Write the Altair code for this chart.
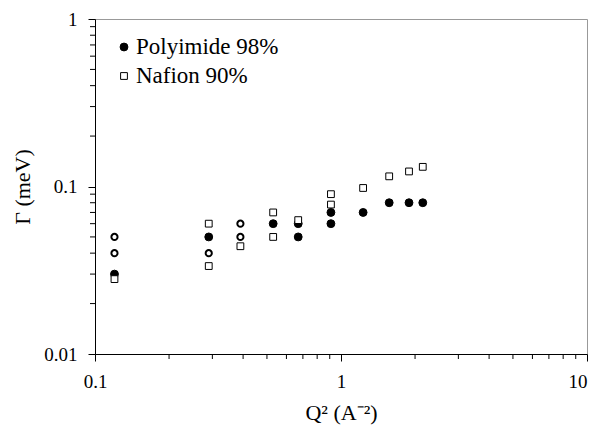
import altair as alt
import pandas as pd

# Polyimide 98% (filled circles)
poly_x = [0.12, 0.29, 0.53, 0.67, 0.67, 0.91, 0.91, 1.23, 1.57, 1.89, 2.15]
poly_y = [0.030, 0.050, 0.060, 0.060, 0.050, 0.070, 0.060, 0.070, 0.080, 0.080, 0.080]
# Nafion 90% (open squares)
naf_x = [0.12, 0.29, 0.29, 0.39, 0.53, 0.53, 0.67, 0.91, 0.91, 1.23, 1.57, 1.89, 2.15]
naf_y = [0.028, 0.060, 0.0335, 0.044, 0.070, 0.050, 0.063, 0.090, 0.078, 0.098, 0.115, 0.123, 0.131]
# extra open circles (not in legend)
open_x = [0.12, 0.12, 0.29, 0.39, 0.39]
open_y = [0.050, 0.040, 0.040, 0.060, 0.050]

series = ["Polyimide 98%", "Nafion 90%"]
x_major = [0.1, 1, 10]
y_major = [0.01, 0.1, 1]
x_minor = [m * d for d in [0.1, 1] for m in range(2, 10)]
y_minor = [m * d for d in [0.01, 0.1] for m in range(2, 10)]

W, H = 492, 335
FONT = "Liberation Serif, Times New Roman, serif"

df_poly = pd.DataFrame({"x": poly_x, "y": poly_y})
df_naf = pd.DataFrame({"x": naf_x, "y": naf_y})
df_open = pd.DataFrame({"x": open_x, "y": open_y})
df_xminor = pd.DataFrame({"x": x_minor})
df_yminor = pd.DataFrame({"y": y_minor})

xs = alt.Scale(type="log", domain=[0.1, 10], nice=False)
ys = alt.Scale(type="log", domain=[0.01, 1], nice=False)

xaxis = alt.Axis(values=x_major, format="~g", title="Q² (A⁻²)", grid=False,
                 tickSize=7, tickColor="black", domainColor="black",
                 labelPadding=11, labelFlush=False,
                 labelAlign={"expr": "datum.value >= 10 ? 'right' : 'center'"},
                 titleY=58, titleBaseline="middle")
yaxis = alt.Axis(values=y_major, format="~g", title="Γ (meV)", grid=False,
                 tickSize=7, tickColor="black", domainColor="black",
                 labelPadding=11, labelFlush=False, titleX=-73, titleY=H / 2,
                 titleAlign="center", titleBaseline="middle", titleAngle=270)

poly = alt.Chart(df_poly).mark_point(shape="circle", filled=True, fill="black",
                                     stroke="black", strokeWidth=1, opacity=1, size=62).encode(
    x=alt.X("x:Q", scale=xs, axis=xaxis),
    y=alt.Y("y:Q", scale=ys, axis=yaxis),
)
naf = alt.Chart(df_naf).mark_point(shape="square", filled=True, fill="white",
                                   stroke="black", strokeWidth=1, opacity=1, size=46).encode(
    x=alt.X("x:Q", scale=xs),
    y=alt.Y("y:Q", scale=ys),
)
opens = alt.Chart(df_open).mark_point(shape="circle", filled=False, stroke="black",
                                      strokeWidth=2, size=38, opacity=1).encode(
    x=alt.X("x:Q", scale=xs),
    y=alt.Y("y:Q", scale=ys),
)

xminor = alt.Chart(df_xminor).mark_rule(color="black", strokeWidth=1).encode(
    x=alt.X("x:Q", scale=xs),
    y=alt.value(H),
    y2=alt.value(H + 5),
)
yminor = alt.Chart(df_yminor).mark_rule(color="black", strokeWidth=1).encode(
    y=alt.Y("y:Q", scale=ys),
    x=alt.value(0),
    x2=alt.value(-5),
)

# legend (drawn manually, top-left inside the plot)
leg_sym1 = alt.Chart(pd.DataFrame({"s": [series[0]]})).mark_point(
    shape="circle", filled=True, fill="black", stroke="black", strokeWidth=1, opacity=1, size=62
).encode(x=alt.value(29), y=alt.value(28))
leg_sym2 = alt.Chart(pd.DataFrame({"s": [series[1]]})).mark_point(
    shape="square", filled=True, fill="white", stroke="black", strokeWidth=1, opacity=1, size=46
).encode(x=alt.value(29), y=alt.value(57))
leg_txt1 = alt.Chart(pd.DataFrame({"s": [series[0]]})).mark_text(
    fontSize=23, color="black", align="left", baseline="middle"
).encode(text="s:N", x=alt.value(41), y=alt.value(28))
leg_txt2 = alt.Chart(pd.DataFrame({"s": [series[1]]})).mark_text(
    fontSize=23, color="black", align="left", baseline="middle"
).encode(text="s:N", x=alt.value(41), y=alt.value(57))

chart = alt.layer(poly, opens, naf, xminor, yminor,
                  leg_sym1, leg_sym2, leg_txt1, leg_txt2).properties(
    width=W, height=H,
    padding={"left": 87, "top": 11, "right": 3, "bottom": 72},
    autosize=alt.AutoSizeParams(type="none"),
    background="white",
).configure(font=FONT).configure_view(stroke="#999999", strokeWidth=1).configure_axis(
    labelFont=FONT, labelFontSize=19, labelColor="black",
    titleFont=FONT, titleFontSize=22, titleColor="black", titleFontWeight="normal",
).configure_text(font=FONT)

chart.save("out.html", embed_options={"renderer": "svg", "actions": False})
